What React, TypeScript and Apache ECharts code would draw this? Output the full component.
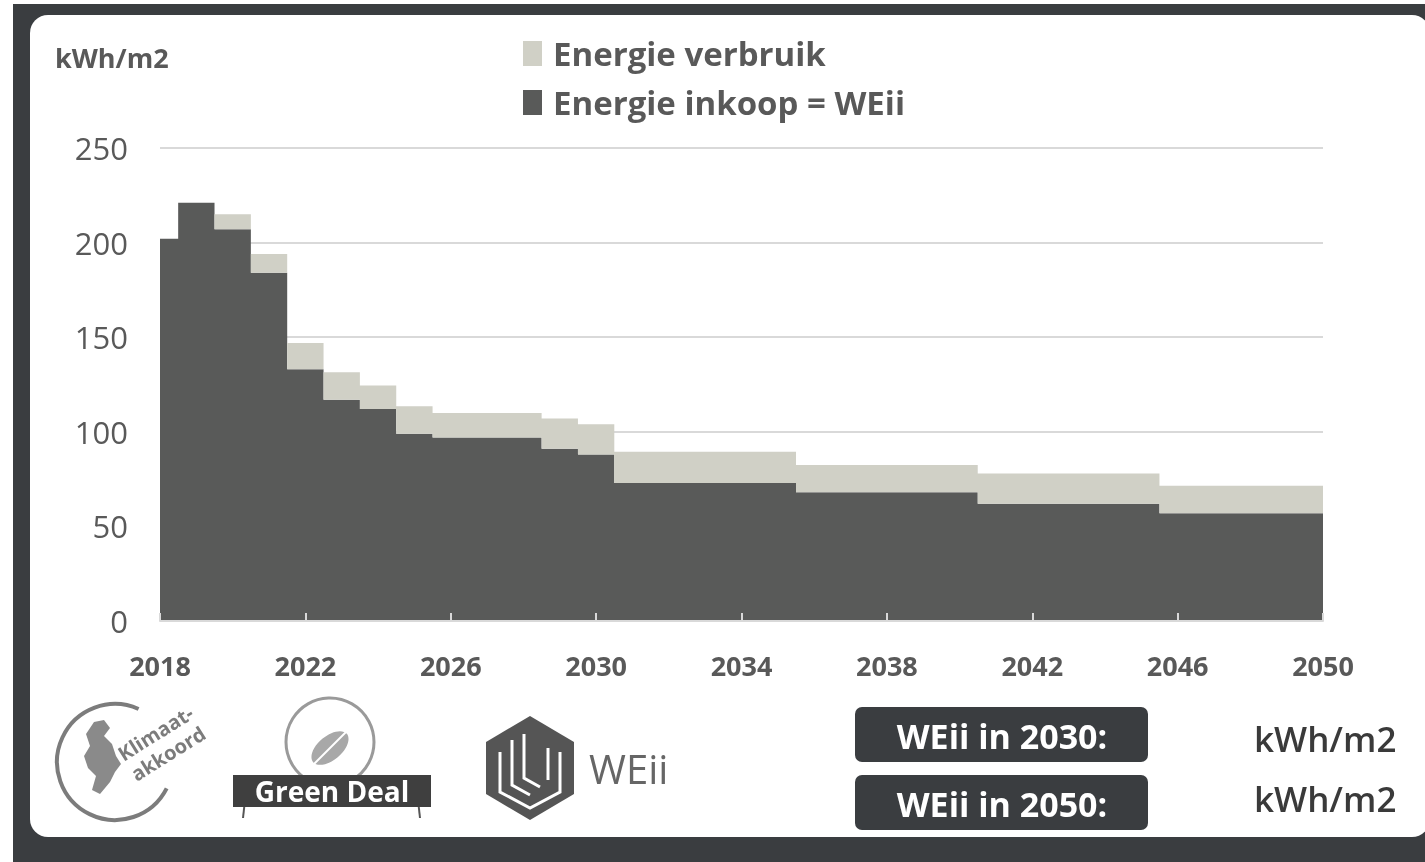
import React, { useEffect, useRef } from "react";
import * as echarts from "echarts";

const years = [
  "2018", "2019", "2020", "2021", "2022", "2023", "2024", "2025", "2026", "2027", "2028",
  "2029", "2030", "2031", "2032", "2033", "2034", "2035", "2036", "2037", "2038", "2039",
  "2040", "2041", "2042", "2043", "2044", "2045", "2046", "2047", "2048", "2049", "2050",
];

// Energie inkoop = WEii (dark)
const inkoop = [
  202, 221, 207, 184, 133, 117, 112, 99, 97, 97, 97, 91, 88,
  73, 73, 73, 73, 73,
  68, 68, 68, 68, 68,
  62, 62, 62, 62, 62,
  57, 57, 57, 57, 57,
];

// Energie verbruik (total)
const verbruik = [
  202, 221, 215, 194, 147, 131.5, 124.5, 113.5, 110, 110, 110, 107, 104,
  89.5, 89.5, 89.5, 89.5, 89.5,
  82.5, 82.5, 82.5, 82.5, 82.5,
  78, 78, 78, 78, 78,
  71.5, 71.5, 71.5, 71.5, 71.5,
];

const yTicks = { min: 0, max: 250, interval: 50 };

const DARK = "#595a59";
const LIGHT = "#d0d0c6";
const TEXT = "#595959";
const FONT = "'Open Sans', 'Noto Sans', sans-serif";

export default function App() {
  const ref = useRef<HTMLDivElement>(null);

  useEffect(() => {
    if (!ref.current) return;
    const chart = echarts.init(ref.current, undefined, { renderer: "svg" });
    const extra = verbruik.map((v, i) => +(v - inkoop[i]).toFixed(2));

    const bg: any[] = [
      { type: "rect", z: -20, shape: { x: 0, y: 0, width: 1425, height: 862 }, style: { fill: "#ffffff" } },
      { type: "rect", z: -19, shape: { x: 13, y: 4, width: 1412, height: 858 }, style: { fill: "#3a3d40" } },
      { type: "rect", z: -18, shape: { x: 30, y: 15, width: 1400, height: 822, r: 18 }, style: { fill: "#ffffff" } },
    ];

    const deg = Math.PI / 180;
    const logos: any[] = [
      // unit label
      { type: "text", x: 55, y: 44, style: { text: "kWh/m2", fontSize: 27, fontWeight: "bold", fill: TEXT, fontFamily: FONT } },
      // Klimaatakkoord logo
      {
        type: "arc",
        shape: { cx: 115, cy: 762, r: 58, startAngle: 27 * deg, endAngle: 294 * deg, clockwise: true },
        style: { stroke: "#7c7c7c", lineWidth: 4, fill: "none" },
      },
      {
        type: "polygon",
        shape: {
          points: [
            [86, 734], [94, 722], [104, 720], [110, 728], [104, 736], [112, 744], [116, 756],
            [121, 764], [115, 772], [110, 782], [100, 794], [92, 790], [96, 776], [88, 768],
            [84, 756], [90, 746],
          ],
        },
        style: { fill: "#8a8a8a" },
      },
      {
        type: "text", x: 125, y: 764, rotation: 32 * deg,
        style: { text: "Klimaat-", fontSize: 20, fontWeight: "bold", fill: "#7c7c7c", fontFamily: FONT, textVerticalAlign: "bottom" },
      },
      {
        type: "text", x: 138, y: 784, rotation: 32 * deg,
        style: { text: "akkoord", fontSize: 20, fontWeight: "bold", fill: "#7c7c7c", fontFamily: FONT, textVerticalAlign: "bottom" },
      },
      // Green Deal logo
      { type: "circle", shape: { cx: 330, cy: 742, r: 44 }, style: { stroke: "#9a9a9a", lineWidth: 3, fill: "#ffffff" } },
      { type: "ellipse", x: 330, y: 748, rotation: 40 * deg, shape: { cx: 0, cy: 0, rx: 22, ry: 12 }, style: { fill: "#a8a8a8" } },
      { type: "line", shape: { x1: 312, y1: 766, x2: 348, y2: 730 }, style: { stroke: "#ffffff", lineWidth: 2 } },
      { type: "line", shape: { x1: 245, y1: 800, x2: 243, y2: 818 }, style: { stroke: "#555", lineWidth: 2 } },
      { type: "line", shape: { x1: 418, y1: 800, x2: 420, y2: 818 }, style: { stroke: "#555", lineWidth: 2 } },
      { type: "rect", shape: { x: 233, y: 775, width: 198, height: 32 }, style: { fill: "#3f3f3f" } },
      {
        type: "text", x: 332, y: 791,
        style: { text: "Green Deal", fontSize: 28, fontWeight: "bold", fill: "#ffffff", fontFamily: FONT, align: "center", verticalAlign: "middle" },
      },
      // WEii logo
      {
        type: "polygon",
        shape: { points: [[530, 716], [574, 742], [574, 794], [530, 820], [486, 794], [486, 742]] },
        style: { fill: "#555555" },
      },
      { type: "polyline", shape: { points: [[500, 752], [500, 792], [530, 808], [560, 792], [560, 752]] }, style: { stroke: "#ffffff", lineWidth: 3, fill: "none" } },
      { type: "polyline", shape: { points: [[512, 740], [512, 785], [530, 795]] }, style: { stroke: "#ffffff", lineWidth: 3, fill: "none" } },
      { type: "polyline", shape: { points: [[524, 734], [524, 778], [540, 787]] }, style: { stroke: "#ffffff", lineWidth: 3, fill: "none" } },
      { type: "line", shape: { x1: 548, y1: 748, x2: 548, y2: 780 }, style: { stroke: "#ffffff", lineWidth: 3 } },
      {
        type: "text", x: 589, y: 768,
        style: { text: "WEii", fontSize: 40, fill: "#666666", fontFamily: FONT, verticalAlign: "middle" },
      },
      // WEii boxes
      { type: "rect", shape: { x: 855, y: 707, width: 293, height: 55, r: 7 }, style: { fill: "#3a3d40" } },
      {
        type: "text", x: 1002, y: 736,
        style: { text: "WEii in 2030:", fontSize: 34, fontWeight: "bold", fill: "#ffffff", fontFamily: FONT, align: "center", verticalAlign: "middle" },
      },
      { type: "rect", shape: { x: 855, y: 775, width: 293, height: 55, r: 7 }, style: { fill: "#3a3d40" } },
      {
        type: "text", x: 1002, y: 804,
        style: { text: "WEii in 2050:", fontSize: 34, fontWeight: "bold", fill: "#ffffff", fontFamily: FONT, align: "center", verticalAlign: "middle" },
      },
      {
        type: "text", x: 1254, y: 738,
        style: { text: "kWh/m2", fontSize: 35, fontWeight: 600, fill: "#3a3a3a", fontFamily: FONT, verticalAlign: "middle" },
      },
      {
        type: "text", x: 1254, y: 798,
        style: { text: "kWh/m2", fontSize: 35, fontWeight: 600, fill: "#3a3a3a", fontFamily: FONT, verticalAlign: "middle" },
      },
    ];

    chart.setOption({
      animation: false,
      graphic: [...bg, ...logos],
      legend: {
        orient: "vertical",
        left: 518,
        top: 32,
        itemWidth: 19,
        itemHeight: 25,
        itemGap: 16,
        icon: "rect",
        data: ["Energie verbruik", "Energie inkoop = WEii"],
        textStyle: { fontSize: 33, fontWeight: "bold", color: TEXT, fontFamily: FONT, padding: [0, 0, 0, 6] },
      },
      grid: { left: 160, right: 102, top: 148, bottom: 241 },
      xAxis: {
        type: "category",
        data: years,
        boundaryGap: false,
        z: 5,
        axisLine: { lineStyle: { color: "#d9d9d9", width: 2 } },
        axisTick: { show: true, inside: true, length: 8, interval: 3, lineStyle: { color: "#d9d9d9", width: 2 } },
        axisLabel: { interval: 3, margin: 31, fontSize: 27, fontWeight: "bold", color: TEXT, fontFamily: FONT },
        splitLine: { show: false },
      },
      yAxis: {
        type: "value",
        min: yTicks.min,
        max: yTicks.max,
        interval: yTicks.interval,
        axisLine: { show: false },
        axisTick: { show: false },
        axisLabel: { margin: 32, fontSize: 31, color: TEXT, fontFamily: FONT },
        splitLine: { lineStyle: { color: "#d9d9d9", width: 2 } },
      },
      series: [
        {
          name: "Energie inkoop = WEii",
          type: "line",
          stack: "total",
          step: "middle",
          data: inkoop,
          showSymbol: false,
          color: DARK,
          itemStyle: { color: DARK },
          lineStyle: { width: 0, color: DARK },
          areaStyle: { color: DARK, opacity: 1 },
        },
        {
          name: "Energie verbruik",
          type: "line",
          stack: "total",
          step: "middle",
          data: extra,
          showSymbol: false,
          color: LIGHT,
          itemStyle: { color: LIGHT },
          lineStyle: { width: 0, color: LIGHT },
          areaStyle: { color: LIGHT, opacity: 1 },
        },
      ],
    });

    return () => chart.dispose();
  }, []);

  return <div ref={ref} style={{ position: "fixed", left: 0, top: 0, width: 1425, height: 862 }} />;
}
